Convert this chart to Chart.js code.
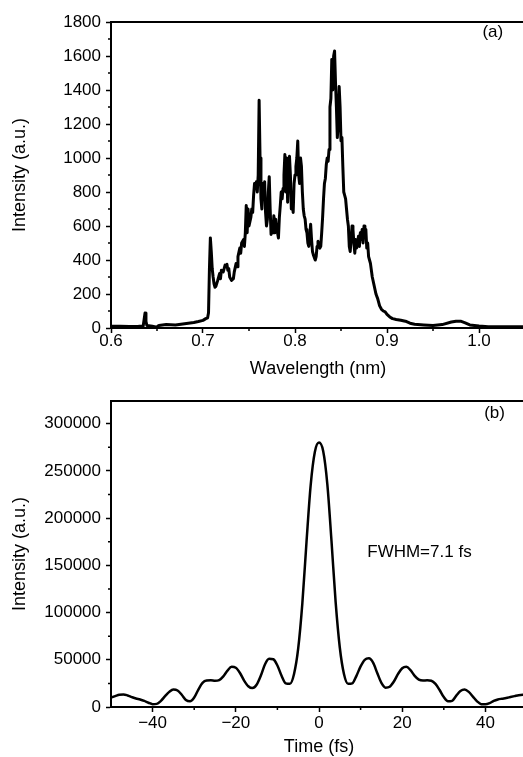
<!DOCTYPE html>
<html lang="en">
<head>
    <meta charset="UTF-8">
    <title>Spectrum and pulse</title>
    <style>
        body {
            margin: 0;
            padding: 0;
            overflow: hidden;
            background: #fff;
        }
        .panel {
            position: absolute;
            left: 0;
        }
        #panelA { top: 0; width: 525px; height: 380px; }
        #panelB { top: 380px; width: 527px; height: 378px; }
    </style>
</head>
<body>

<div class="panel" id="panelA"><canvas id="spec"></canvas></div>
<div class="panel" id="panelB"><canvas id="pulse"></canvas></div>

<script src="https://cdn.jsdelivr.net/npm/chart.js"></script>

<script>
    // (a) spectrum
    const specWl = [
        0.600, 0.610, 0.620, 0.630, 0.635, 0.636, 0.637, 0.638, 0.639, 0.645, 0.650, 0.652, 0.660, 0.670, 0.680, 0.690, 0.695, 0.700, 0.703, 0.705,
        0.706, 0.707, 0.708, 0.709, 0.710, 0.711, 0.712, 0.713, 0.714, 0.716, 0.718, 0.719, 0.720, 0.722, 0.724, 0.725, 0.726, 0.727, 0.728, 0.729,
        0.731, 0.733, 0.734, 0.736, 0.737, 0.738, 0.740, 0.741, 0.742, 0.744, 0.745, 0.746, 0.747, 0.748, 0.749, 0.750, 0.752, 0.753, 0.754, 0.755,
        0.756, 0.757, 0.758, 0.759, 0.760, 0.761, 0.762, 0.763, 0.764, 0.765, 0.766, 0.767, 0.768, 0.769, 0.770, 0.771, 0.772, 0.773, 0.774, 0.775,
        0.776, 0.777, 0.778, 0.779, 0.780, 0.781, 0.782, 0.783, 0.784, 0.785, 0.786, 0.787, 0.788, 0.789, 0.790, 0.791, 0.792, 0.793, 0.794, 0.795,
        0.796, 0.797, 0.798, 0.799, 0.800, 0.801, 0.802, 0.803, 0.804, 0.805, 0.806, 0.807, 0.808, 0.809, 0.810, 0.811, 0.812, 0.813, 0.814, 0.815,
        0.816, 0.817, 0.818, 0.819, 0.820, 0.822, 0.823, 0.824, 0.825, 0.826, 0.827, 0.828, 0.829, 0.830, 0.831, 0.832, 0.833, 0.834, 0.835, 0.836,
        0.837, 0.838, 0.839, 0.840, 0.841, 0.842, 0.843, 0.844, 0.845, 0.846, 0.847, 0.848, 0.849, 0.850, 0.851, 0.852, 0.853, 0.854, 0.855, 0.856,
        0.857, 0.858, 0.859, 0.860, 0.861, 0.862, 0.863, 0.864, 0.865, 0.866, 0.867, 0.868, 0.869, 0.870, 0.871, 0.872, 0.873, 0.874, 0.875, 0.876,
        0.877, 0.878, 0.879, 0.880, 0.881, 0.882, 0.884, 0.886, 0.888, 0.890, 0.892, 0.894, 0.896, 0.898, 0.900, 0.903, 0.906, 0.910, 0.915, 0.920,
        0.925, 0.930, 0.940, 0.950, 0.960, 0.970, 0.975, 0.980, 0.985, 0.990, 1.000, 1.010, 1.020, 1.030, 1.040, 1.050
    ];
    const specInt = [
        10, 10, 9, 10, 12, 50, 88, 40, 15, 10, 5, 15, 20, 18, 25, 32, 38, 45, 55, 60,
        90, 350, 530, 450, 350, 300, 260, 240, 245, 280, 320, 290, 340, 330, 370, 360, 375, 340, 350, 300,
        280, 290, 330, 380, 360, 420, 470, 440, 500, 520, 480, 560, 720, 560, 700, 600, 650, 700, 680, 780,
        850, 820, 860, 800, 900, 1340, 1000, 760, 700, 850, 780, 860, 680, 600, 640, 800, 890, 700, 550, 620,
        560, 660, 560, 640, 580, 560, 530, 650, 720, 800, 760, 820, 900, 1020, 800, 1000, 740, 950, 1010, 900,
        700, 780, 680, 850, 900, 950, 1000, 1100, 900, 850, 1000, 950, 800, 700, 660, 640, 580, 560, 500, 480,
        540, 610, 520, 450, 430, 400, 420, 480, 510, 480, 470, 480, 560, 650, 760, 850, 880, 960, 1000, 980,
        1050, 1300, 1350, 1580, 1400, 1600, 1630, 1450, 1300, 1120, 1200, 1420, 1300, 1100, 1120, 950, 800, 780, 760, 700,
        640, 600, 480, 450, 520, 600, 580, 500, 440, 520, 470, 500, 540, 480, 560, 520, 580, 500, 600, 560,
        580, 470, 500, 420, 400, 380, 300, 250, 200, 170, 130, 110, 100, 95, 80, 65, 55, 50, 45, 40,
        28, 22, 18, 15, 20, 35, 40, 40, 30, 18, 12, 8, 8, 8, 7, 7
    ];
    const specXTicks = [0.6, 0.7, 0.8, 0.9, 1.0];
    const specXMinor = [0.65, 0.75, 0.85, 0.95];
    const specYTicks = [0, 200, 400, 600, 800, 1000, 1200, 1400, 1600, 1800];
    const specYMinor = [100, 300, 500, 700, 900, 1100, 1300, 1500, 1700];

    // (b) pulse
    const pulseT = [];
    for (let t = -50; t <= 50; t++) pulseT.push(t);
    const pulseInt = [
        10000, 11500, 13000, 13300, 12200, 10500, 9000, 8000, 6500, 4500,
        3000, 3300, 6500, 11500, 16000, 18500, 17500, 13000, 7500, 6000,
        10000, 18500, 25500, 28000, 28200, 27800, 28500, 32500, 38500, 42500,
        41500, 36000, 28000, 22000, 20000, 23500, 33000, 45000, 51000, 50500,
        44000, 33000, 25000, 24500, 35000, 62000, 110000, 175000, 235000, 270000,
        280000,
        271000, 236000, 176000, 111000, 63000, 35000, 24500, 25000, 33000, 43000,
        50000, 51500, 47000, 36000, 25500, 20500, 21500, 27000, 35000, 41000,
        42500, 39000, 33000, 29000, 28000, 28200, 27800, 24500, 18000, 10500,
        6000, 6500, 12000, 17000, 18500, 16000, 11000, 6000, 3000, 2800,
        4000, 6500, 8000, 8800, 9500, 10500, 11500, 12500, 13000, 12500
    ];
    const pulseXTicks = [-40, -20, 0, 20, 40];
    const pulseXMinor = [-30, -10, 10, 30];
    const pulseYTicks = [0, 50000, 100000, 150000, 200000, 250000, 300000];
    const pulseYMinor = [25000, 75000, 125000, 175000, 225000, 275000];

    Chart.defaults.font.family = '"Liberation Sans", Arial, sans-serif';
    Chart.defaults.color = '#000';

    // minor ticks, top frame line and text labels
    const extras = {
        id: 'extras',
        afterDraw(chart, args, opts) {
            const ctx = chart.ctx;
            const x = chart.scales.x, y = chart.scales.y;
            const area = chart.chartArea;
            ctx.save();
            ctx.strokeStyle = '#000';
            ctx.lineWidth = 1.5;
            ctx.beginPath();
            opts.xMinor.forEach(v => {
                const px = x.getPixelForValue(v);
                ctx.moveTo(px, area.bottom);
                ctx.lineTo(px, area.bottom + 3);
            });
            opts.yMinor.forEach(v => {
                const py = y.getPixelForValue(v);
                ctx.moveTo(area.left - 3, py);
                ctx.lineTo(area.left, py);
            });
            ctx.stroke();
            ctx.lineWidth = 2;
            ctx.beginPath();
            ctx.moveTo(area.left, area.top);
            ctx.lineTo(chart.width, area.top);
            ctx.stroke();
            ctx.fillStyle = '#000';
            ctx.font = '17px "Liberation Sans", Arial, sans-serif';
            ctx.textBaseline = 'middle';
            opts.labels.forEach(l => {
                ctx.textAlign = l.align;
                ctx.fillText(l.text, x.getPixelForValue(l.x), y.getPixelForValue(l.y));
            });
            ctx.restore();
        }
    };

    function makeChart(id, xs, ys, cfg) {
        const points = xs.map((v, i) => ({x: v, y: ys[i]}));
        return new Chart(document.getElementById(id), {
            type: 'line',
            data: {
                datasets: [{
                    data: points,
                    borderColor: '#000',
                    borderWidth: cfg.lineWidth,
                    borderJoinStyle: 'round',
                    pointRadius: 0,
                    tension: cfg.smooth ? 0.4 : 0,
                    cubicInterpolationMode: cfg.smooth ? 'monotone' : 'default',
                    fill: false
                }]
            },
            plugins: [extras],
            options: {
                responsive: true,
                maintainAspectRatio: false,
                animation: false,
                layout: {padding: {top: cfg.padTop, left: 0, right: 0, bottom: 0}},
                plugins: {
                    legend: {display: false},
                    tooltip: {enabled: false},
                    extras: {xMinor: cfg.xMinor, yMinor: cfg.yMinor, labels: cfg.labels}
                },
                scales: {
                    x: {
                        type: 'linear',
                        min: cfg.xMin,
                        max: cfg.xMax,
                        afterBuildTicks: s => { s.ticks = cfg.xTicks.map(v => ({value: v})); },
                        afterFit: s => { s.height = cfg.xAxisHeight; },
                        ticks: {
                            autoSkip: false,
                            maxRotation: 0,
                            padding: cfg.xTickPad,
                            font: {size: 17, lineHeight: 1},
                            callback: cfg.xFormat
                        },
                        grid: {drawOnChartArea: false, tickLength: 5, tickWidth: 1.5, tickColor: '#000'},
                        border: {color: '#000', width: 2},
                        title: {display: true, text: cfg.xTitle, font: {size: 18}, padding: {top: 0, bottom: 0}}
                    },
                    y: {
                        min: 0,
                        max: cfg.yMax,
                        afterBuildTicks: s => { s.ticks = cfg.yTicks.map(v => ({value: v})); },
                        afterFit: s => { s.width = 111; },
                        ticks: {
                            autoSkip: false,
                            padding: 5,
                            font: {size: 17},
                            callback: v => String(v)
                        },
                        grid: {drawOnChartArea: false, tickLength: 5, tickWidth: 1.5, tickColor: '#000'},
                        border: {color: '#000', width: 2},
                        title: {display: true, text: 'Intensity (a.u.)', font: {size: 18}, padding: {top: 9, bottom: 0}}
                    }
                }
            }
        });
    }

    makeChart('spec', specWl, specInt, {
        lineWidth: 3, smooth: false, padTop: 22,
        xMin: 0.6, xMax: 1.05, yMax: 1800,
        xTicks: specXTicks, yTicks: specYTicks, xMinor: specXMinor, yMinor: specYMinor,
        xAxisHeight: 52, xTickPad: 0,
        xFormat: v => v.toFixed(1),
        xTitle: 'Wavelength (nm)',
        labels: [{text: '(a)', x: 1.015, y: 1741, align: 'center'}]
    });

    makeChart('pulse', pulseT, pulseInt, {
        lineWidth: 2.5, smooth: true, padTop: 21,
        xMin: -50, xMax: 50, yMax: 324000,
        xTicks: pulseXTicks, yTicks: pulseYTicks, xMinor: pulseXMinor, yMinor: pulseYMinor,
        xAxisHeight: 51, xTickPad: 3,
        xFormat: v => (v < 0 ? '\u2212' + Math.abs(v) : String(v)),
        xTitle: 'Time (fs)',
        labels: [
            {text: '(b)', x: 42.2, y: 311000, align: 'center'},
            {text: 'FWHM=7.1 fs', x: 11.6, y: 163800, align: 'left'}
        ]
    });
</script>

</body>
</html>
